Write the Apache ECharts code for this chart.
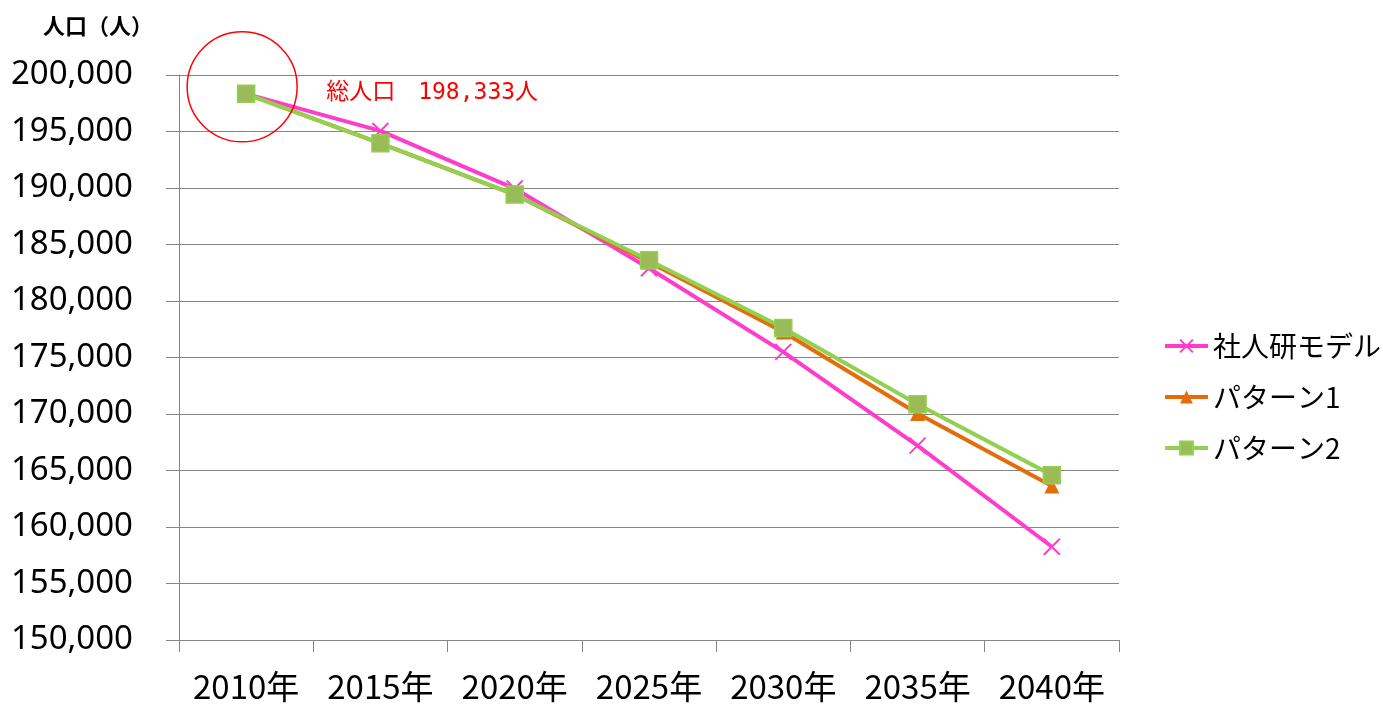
<!DOCTYPE html>
<html>
<head>
<meta charset="utf-8">
<script src="https://cdn.jsdelivr.net/npm/echarts@6/dist/echarts.min.js"></script>
<style>
  html, body { margin: 0; padding: 0; background: #fff; }
  #main { width: 1383px; height: 706px; }
</style>
</head>
<body>
<div id="main"></div>
<script>
// data
var years = ['2010年', '2015年', '2020年', '2025年', '2030年', '2035年', '2040年'];
var shajinken = [198333, 195050, 189950, 182900, 175500, 167200, 158250];
var pattern1 = [198333, 193950, 189420, 183450, 177250, 170050, 163620];
var pattern2 = [198333, 193950, 189420, 183610, 177620, 170870, 164590];
var seriesNames = ['社人研モデル', 'パターン1', 'パターン2'];

var jp = '"Noto Sans CJK JP", "Noto Sans", sans-serif';

var chart = echarts.init(document.getElementById('main'));

chart.setOption({
    animation: false,
    textStyle: { fontFamily: jp },
    grid: { left: 179, right: 264, top: 75, bottom: 66 },
    legend: {
        orient: 'vertical',
        left: 1158,
        top: 327,
        itemWidth: 43,
        itemHeight: 16,
        itemGap: 23,
        lineStyle: { width: 4 },
        textStyle: { fontSize: 28, color: '#000', fontFamily: jp },
        data: seriesNames
    },
    xAxis: {
        type: 'category',
        data: years,
        boundaryGap: true,
        axisLine: { lineStyle: { color: '#868686', width: 1 } },
        axisTick: { show: true, interval: 0, length: 12, lineStyle: { color: '#868686' } },
        axisLabel: { interval: 0, fontSize: 33, color: '#000', margin: 30, fontFamily: jp },
        splitLine: { show: false }
    },
    yAxis: {
        type: 'value',
        min: 150000,
        max: 200000,
        interval: 5000,
        name: '人口（人）',
        nameLocation: 'end',
        nameGap: 38,
        nameTextStyle: { fontSize: 22, fontWeight: 'bold', color: '#000', align: 'right', padding: [0, 26, 0, 0], fontFamily: jp },
        axisLine: { show: true, lineStyle: { color: '#868686', width: 1 } },
        axisTick: { show: true, length: 13, lineStyle: { color: '#868686' } },
        axisLabel: {
            fontSize: 33, color: '#000', margin: 46, fontFamily: '"Noto Sans", sans-serif',
            formatter: function (v) { return v.toLocaleString('en-US'); }
        },
        splitLine: { lineStyle: { color: '#868686', width: 1 } }
    },
    series: [
        {
            name: seriesNames[0],
            type: 'line',
            data: shajinken,
            symbol: 'path://M0,0L10,10M10,0L0,10',
            symbolSize: 16,
            lineStyle: { color: '#FF3DCC', width: 4 },
            itemStyle: { color: 'rgba(0,0,0,0)', borderColor: '#FF3DCC', borderWidth: 2 },
            z: 2
        },
        {
            name: seriesNames[1],
            type: 'line',
            data: pattern1,
            symbol: 'triangle',
            symbolSize: 15,
            lineStyle: { color: '#E46C0A', width: 4 },
            itemStyle: { color: '#E46C0A' },
            z: 3
        },
        {
            name: seriesNames[2],
            type: 'line',
            data: pattern2,
            symbol: 'rect',
            symbolSize: 17,
            lineStyle: { color: '#92D050', width: 4 },
            itemStyle: { color: '#9BBB59', borderColor: '#92D050', borderWidth: 1.5 },
            z: 4,
            markPoint: {
                silent: true,
                symbol: 'circle',
                symbolSize: 110,
                symbolOffset: [-4, -7],
                itemStyle: { color: 'rgba(0,0,0,0)', borderColor: '#FF0000', borderWidth: 1.5 },
                label: {
                    show: true,
                    position: 'inside',
                    align: 'left',
                    offset: [84, 6],
                    color: '#FF0000',
                    fontSize: 23,
                    fontFamily: '"DejaVu Sans Mono", "Noto Sans CJK JP", monospace',
                    formatter: '総人口　198,333人'
                },
                data: [{ coord: [0, pattern2[0]] }]
            }
        }
    ]
});
</script>
</body>
</html>
